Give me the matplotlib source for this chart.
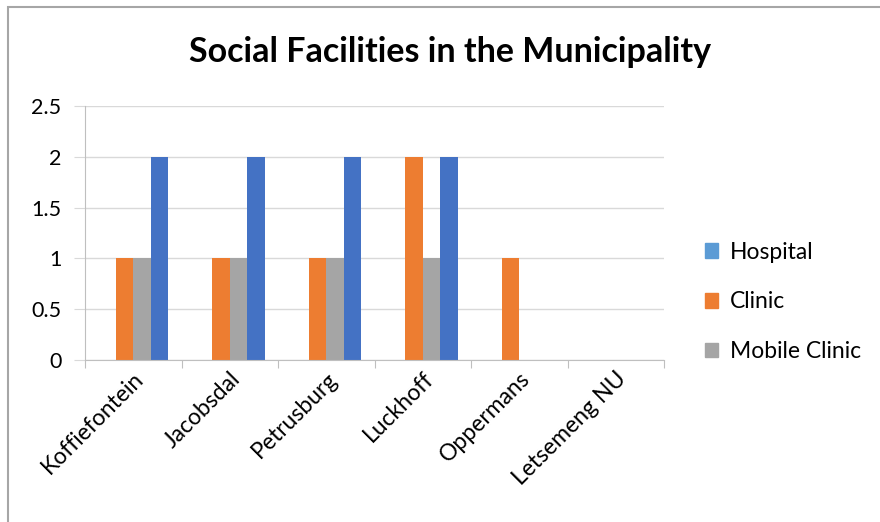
import matplotlib
matplotlib.use("Agg")
import matplotlib.pyplot as plt
from matplotlib.patches import Rectangle, Patch
import numpy as np

plt.rcParams['font.family'] = ['Lato', 'DejaVu Sans']

towns = ["Koffiefontein", "Jacobsdal", "Petrusburg", "Luckhoff", "Oppermans", "Letsemeng NU"]
hospital = [0, 0, 0, 0, 0, 0]
clinic = [1, 1, 1, 2, 1, 0]
mobile_clinic = [1, 1, 1, 1, 0, 0]
hospital_beds = [2, 2, 2, 2, 0, 0]

series = [
    ("Hospital", hospital, "#5B9BD5"),
    ("Clinic", clinic, "#ED7D31"),
    ("Mobile Clinic", mobile_clinic, "#A5A5A5"),
    ("_hidden", hospital_beds, "#4472C4"),
]

fig = plt.figure(figsize=(8.8, 5.22), dpi=100)
# outer chart frame (cut off at right and bottom)
fig.patches.append(Rectangle((8 / 880, -0.1), 1.2, 1 - 7 / 522 + 0.1, transform=fig.transFigure,
                             fill=False, edgecolor="#A6A6A6", linewidth=1.5))

ax = fig.add_axes([85 / 880, 1 - 360 / 522, 579 / 880, 254 / 522])

x = np.arange(len(towns))
width = 1 / (len(series) + 1.5)
for i, (name, vals, color) in enumerate(series):
    offset = (i - (len(series) - 1) / 2) * width
    ax.bar(x + offset, vals, width, color=color, label=name, zorder=3)

ax.set_xlim(-0.5, len(towns) - 0.5)
ax.set_ylim(0, 2.5)
ax.set_yticks(np.arange(0, 2.51, 0.5))
ax.set_yticklabels(["0", "0.5", "1", "1.5", "2", "2.5"])
ax.yaxis.grid(True, color="#D9D9D9", linewidth=1, zorder=0)
ax.tick_params(axis="y", length=8, color="#D9D9D9", labelsize=15.5, pad=9)

ax.set_xticks(np.arange(-0.5, len(towns)), minor=False)
ax.set_xticklabels([])
ax.set_xticks(x, minor=True)
ax.set_xticklabels(towns, minor=True, rotation=45, ha="right", rotation_mode="anchor", fontsize=16.5)
ax.tick_params(axis="x", which="major", length=6, color="#BFBFBF")
ax.tick_params(axis="x", which="minor", length=0, pad=6)

for s in ["top", "right"]:
    ax.spines[s].set_visible(False)
ax.spines["left"].set_color("#BFBFBF")
ax.spines["bottom"].set_color("#BFBFBF")
ax.spines["bottom"].set_zorder(4)

fig.text(450 / 880, 1 - 52 / 522, "Social Facilities in the Municipality", ha="center", va="center",
         fontsize=24.5, fontweight="bold")

handles = [Patch(color=c, label=n) for n, _, c in series[:3]]
fig.legend(handles=handles, loc="center left", bbox_to_anchor=(684 / 880, 1 - 302 / 522),
           frameon=False, fontsize=16.5, handlelength=0.6, handleheight=0.6,
           labelspacing=1.25, handletextpad=0.5)

fig.savefig("out.png", dpi=100)
